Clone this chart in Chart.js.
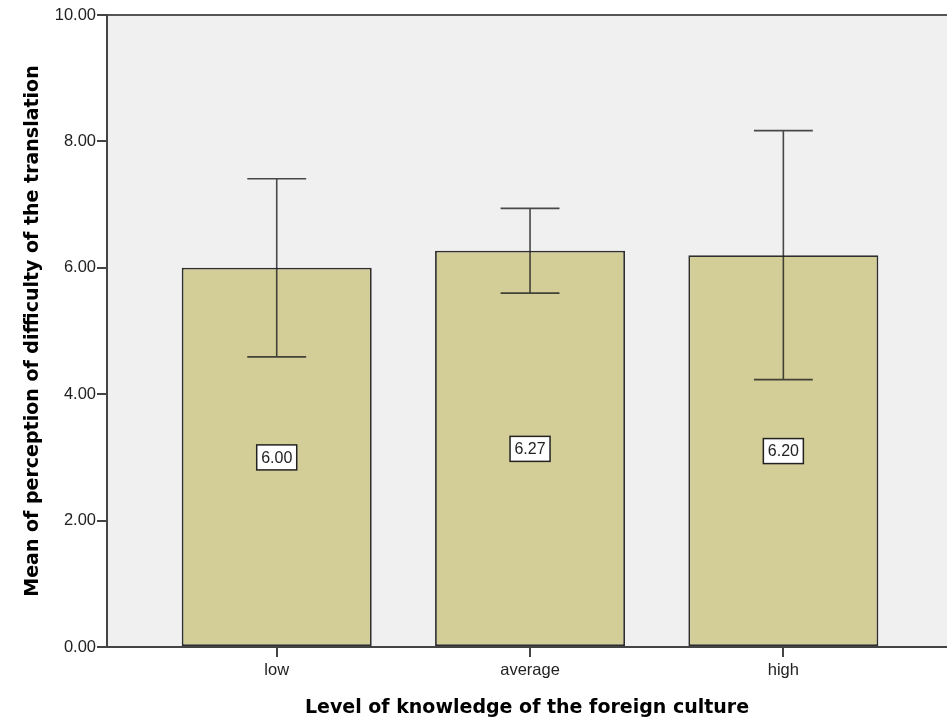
<!DOCTYPE html>
<html>
<head>
<meta charset="utf-8">
<script src="https://cdn.jsdelivr.net/npm/chart.js@4/dist/chart.umd.min.js"></script>
<style>
  html, body { margin: 0; padding: 0; background: #ffffff; }
  #wrap { width: 947px; height: 719px; position: relative; }
</style>
</head>
<body>
<div id="wrap"><canvas id="c" width="947" height="719"></canvas></div>
<script>
const categories = ["low", "average", "high"];
const means = [6.00, 6.27, 6.20];
const errLow = [4.59, 5.60, 4.23];
const errHigh = [7.41, 6.94, 8.17];
const valueLabels = ["6.00", "6.27", "6.20"];
const yTicks = [0, 2, 4, 6, 8, 10];
const xTitle = "Level of knowledge of the foreign culture";
const yTitle = "Mean of perception of difficulty of the translation";

const plotBg = {
  id: 'plotBg',
  beforeDraw(chart) {
    const { ctx, chartArea: a } = chart;
    ctx.save();
    ctx.fillStyle = '#f0f0f0';
    ctx.fillRect(a.left, a.top, a.right - a.left, a.bottom - a.top);
    ctx.strokeStyle = '#555555';
    ctx.lineWidth = 2;
    ctx.beginPath();
    ctx.moveTo(a.left, a.top);
    ctx.lineTo(a.right, a.top);
    ctx.stroke();
    ctx.restore();
  }
};

const errBars = {
  id: 'errBars',
  afterDatasetsDraw(chart) {
    const { ctx } = chart;
    const ys = chart.scales.y;
    const meta = chart.getDatasetMeta(0);
    ctx.save();
    ctx.strokeStyle = 'rgba(30,30,30,0.8)';
    ctx.lineWidth = 1.6;
    meta.data.forEach((bar, i) => {
      const x = bar.x;
      const half = bar.width * 0.155;
      const yl = ys.getPixelForValue(errLow[i]);
      const yh = ys.getPixelForValue(errHigh[i]);
      ctx.beginPath();
      ctx.moveTo(x, yl); ctx.lineTo(x, yh);
      ctx.moveTo(x - half, yl); ctx.lineTo(x + half, yl);
      ctx.moveTo(x - half, yh); ctx.lineTo(x + half, yh);
      ctx.stroke();
    });
    ctx.font = '16px "Liberation Sans", Arial, sans-serif';
    ctx.textAlign = 'center';
    ctx.textBaseline = 'middle';
    meta.data.forEach((bar, i) => {
      const x = bar.x;
      const y = ys.getPixelForValue(means[i] / 2);
      const w = 40, h = 25;
      ctx.fillStyle = '#ffffff';
      ctx.fillRect(x - w / 2, y - h / 2, w, h);
      ctx.strokeStyle = '#222222';
      ctx.lineWidth = 1.5;
      ctx.strokeRect(x - w / 2, y - h / 2, w, h);
      ctx.fillStyle = '#222222';
      ctx.fillText(valueLabels[i], x, y + 1);
    });
    ctx.restore();
  }
};

new Chart(document.getElementById('c'), {
  type: 'bar',
  data: {
    datasets: [{
      data: categories.map((c, i) => ({ x: i, y: means[i] })),
      backgroundColor: '#d3ce97',
      borderColor: '#2e2e2e',
      borderWidth: 1.8,
      borderSkipped: false,
      categoryPercentage: 1,
      barPercentage: 0.75
    }]
  },
  options: {
    responsive: false,
    animation: false,
    layout: { padding: { left: 22, top: 15, right: 0, bottom: 0 } },
    plugins: { legend: { display: false }, tooltip: { enabled: false } },
    scales: {
      x: {
        type: 'linear',
        offset: false,
        min: -0.67,
        max: 2.646,
        afterBuildTicks(scale) { scale.ticks = categories.map((c, i) => ({ value: i })); },
        afterFit(scale) { scale.height = 72; },
        ticks: {
          callback: (v) => categories[v],
          font: { family: '"Liberation Sans", Arial, sans-serif', size: 16.5 },
          color: '#222222',
          padding: 4,
          maxRotation: 0,
          autoSkip: false
        },
        grid: { offset: false, drawOnChartArea: false, drawTicks: true, tickLength: 10, color: '#444444', lineWidth: 2 },
        border: { color: '#444444', width: 2 },
        title: {
          display: true,
          text: xTitle,
          font: { family: '"DejaVu Sans", Verdana, sans-serif', size: 19, weight: 'bold' },
          color: '#000000',
          padding: { top: 4, bottom: 0 }
        }
      },
      y: {
        min: 0,
        max: 10,
        afterBuildTicks(scale) { scale.ticks = yTicks.map(v => ({ value: v })); },
        afterFit(scale) { scale.width = 85; },
        ticks: {
          callback: (v) => v.toFixed(2),
          font: { family: '"Liberation Sans", Arial, sans-serif', size: 16.5 },
          color: '#222222',
          padding: 1
        },
        grid: { drawOnChartArea: false, drawTicks: true, tickLength: 10, color: '#444444', lineWidth: 2 },
        border: { color: '#444444', width: 2 },
        title: {
          display: true,
          text: yTitle,
          font: { family: '"DejaVu Sans", Verdana, sans-serif', size: 19, weight: 'bold' },
          color: '#000000',
          padding: { top: 0, bottom: 0 }
        }
      }
    }
  },
  plugins: [plotBg, errBars]
});
</script>
</body>
</html>
